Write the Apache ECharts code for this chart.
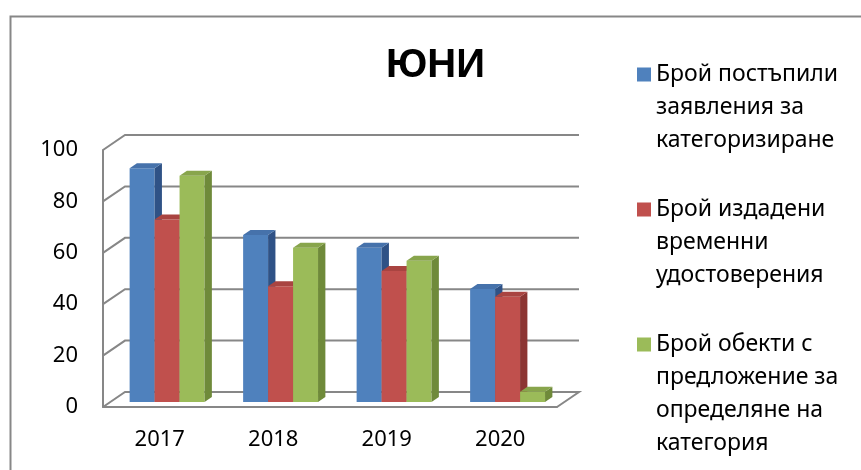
<!DOCTYPE html>
<html>
<head>
<meta charset="utf-8">
<script src="https://cdn.jsdelivr.net/npm/echarts@6/dist/echarts.min.js"></script>
<style>
  html, body { margin: 0; padding: 0; background: #fff; }
  #main { width: 861px; height: 470px; }
</style>
</head>
<body>
<div id="main"></div>
<script>
// data
const years = ['2017', '2018', '2019', '2020'];
const seriesNames = [
  'Брой постъпили\nзаявления за\nкатегоризиране',
  'Брой издадени\nвременни\nудостоверения',
  'Брой обекти с\nпредложение за\nопределяне на\nкатегория'
];
const applied = [91, 65, 60, 44];
const issued = [71, 45, 51, 41];
const proposed = [88, 60, 55, 4];
const yTicks = [0, 20, 40, 60, 80, 100];

const frontColors = ['#4f81bd', '#c0504d', '#9bbb59'];
const sideColors = ['#2f5286', '#8c3533', '#6f8a3a'];
const topColors = ['#4672ab', '#a94441', '#88a54c'];
const gridColor = '#878787';
const fontFam = '"Noto Sans", "Open Sans", sans-serif';

// depth of the pseudo 3D box (px)
const DX = 22, DY = 15;
const LINE_H = 33;

const chart = echarts.init(document.getElementById('main'));

// one bar: front, side and top face
function barItem(idx) {
  return function (params, api) {
    const cat = api.value(0);
    const val = api.value(1);
    const base = api.coord([cat, 0]);
    const top = api.coord([cat, val]);
    const band = api.size([1, 0])[0];
    const w = band * 0.22;
    const ox = DX / 3, oy = DY / 3;
    const x0 = base[0] - 1.5 * w + idx * w + ox;
    const x1 = x0 + w;
    const yb = base[1] - oy, yt = top[1] - oy;
    return {
      type: 'group',
      children: [
        { type: 'polygon', shape: { points: [[x0, yb], [x1, yb], [x1, yt], [x0, yt]] }, style: { fill: frontColors[idx] } },
        { type: 'polygon', shape: { points: [[x1, yb], [x1 + ox, yb - oy], [x1 + ox, yt - oy], [x1, yt]] }, style: { fill: sideColors[idx] } },
        { type: 'polygon', shape: { points: [[x0, yt], [x1, yt], [x1 + ox, yt - oy], [x0 + ox, yt - oy]] }, style: { fill: topColors[idx] } }
      ]
    };
  };
}

// side wall + back wall grid lines
function wallItem(params, api) {
  const cs = params.coordSys;
  const v = api.value(1);
  const y = api.coord([0, v])[1];
  const xl = cs.x, xr = cs.x + cs.width;
  const pts = [[xl, y], [xl + DX, y - DY], [xr + DX, y - DY]];
  if (v === 0) pts.push([xr, y]);
  return { type: 'polyline', shape: { points: pts }, style: { stroke: gridColor, lineWidth: 2, fill: null } };
}

// legend icon: square next to the first text line, tiny dots stretch the box to the full text height
function legendIcon(lines) {
  const h = lines * LINE_H;
  const c = LINE_H / 2;
  return 'path://M0,0h0.01v0.01h-0.01z M0,' + (h - 0.01) + 'h0.01v0.01h-0.01z ' +
    'M0,' + (c - 7) + 'h14v14h-14z';
}

function legendFor(i, top) {
  const lines = seriesNames[i].split('\n').length;
  return {
    orient: 'vertical',
    left: 637,
    top: top,
    padding: 0,
    itemWidth: 14,
    itemHeight: lines * LINE_H,
    textStyle: { fontSize: 23, lineHeight: LINE_H, color: '#000', fontFamily: fontFam },
    data: [{ name: seriesNames[i], icon: legendIcon(lines) }]
  };
}

const values = [applied, issued, proposed];
const barSeries = values.map((arr, i) => ({
  name: seriesNames[i],
  type: 'custom',
  renderItem: barItem(i),
  itemStyle: { color: frontColors[i] },
  encode: { x: 0, y: 1 },
  z: 3,
  data: arr.map((v, j) => [j, v])
}));

const option = {
  animation: false,
  title: {
    text: 'ЮНИ',
    left: 386,
    top: 46,
    padding: 0,
    textStyle: { fontSize: 40, fontWeight: 'bold', color: '#000', fontFamily: '"Liberation Sans", Arial, sans-serif' }
  },
  graphic: [{
    type: 'rect',
    left: 8,
    top: 14,
    shape: { width: 880, height: 480 },
    style: { fill: null, stroke: gridColor, lineWidth: 2 }
  }],
  legend: [legendFor(0, 58), legendFor(1, 193), legendFor(2, 328)],
  grid: { left: 103, top: 150, width: 454, height: 257 },
  xAxis: {
    type: 'category',
    data: years,
    axisLine: { show: true, lineStyle: { color: gridColor, width: 2 } },
    axisTick: { show: false },
    axisLabel: { margin: 22, fontSize: 22, color: '#000', fontFamily: fontFam },
    splitLine: { show: false }
  },
  yAxis: {
    type: 'value',
    min: 0,
    max: 100,
    interval: 20,
    axisLine: { show: true, lineStyle: { color: gridColor, width: 2 } },
    axisTick: { show: false },
    axisLabel: { margin: 25, fontSize: 22, color: '#000', fontFamily: fontFam },
    splitLine: { show: false }
  },
  series: [{
    name: 'walls',
    type: 'custom',
    renderItem: wallItem,
    encode: { x: 0, y: 1 },
    silent: true,
    z: 1,
    data: yTicks.map(v => [0, v])
  }].concat(barSeries)
};

chart.setOption(option);
</script>
</body>
</html>
